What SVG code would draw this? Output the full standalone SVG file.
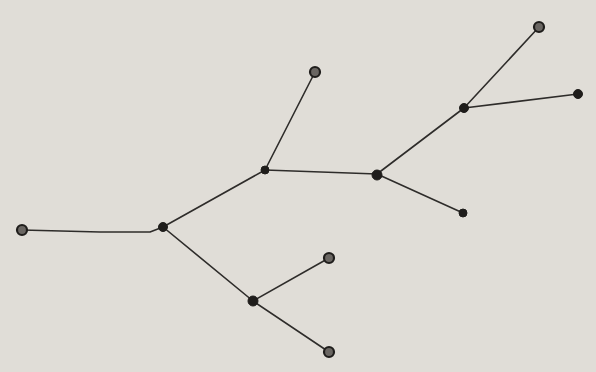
<svg xmlns="http://www.w3.org/2000/svg" width="596" height="372" viewBox="0 0 596 372">
<style>
.e{fill:none;stroke:#2e2c2a;stroke-width:1.6;stroke-linecap:round;stroke-linejoin:round}
.leaf{fill:#6a6662;stroke:#1f1d1b;stroke-width:2.2}
.inner{fill:#1f1d1b;stroke:#1f1d1b;stroke-width:1}
</style>
<rect width="596" height="372" fill="#e0ddd7"/>
<g id="connectors">
<path class="e" d="M22,230 L100,232 L150,232 L163,227"/>
<path class="e" d="M163,227 L265,170"/>
<path class="e" d="M265,170 L315,72"/>
<path class="e" d="M265,170 L377,174"/>
<path class="e" d="M377,174 L464,108"/>
<path class="e" d="M464,108 L539,27"/>
<path class="e" d="M464,108 L578,94"/>
<path class="e" d="M377,174 L463,213"/>
<path class="e" d="M163,227 L253,301"/>
<path class="e" d="M253,301 L329,258"/>
<path class="e" d="M253,301 L329,352"/>
</g>
<g id="n1"><circle class="leaf" cx="22" cy="230" r="5"/></g>
<g id="n2"><circle class="inner" cx="163" cy="227" r="4.5"/></g>
<g id="n3"><circle class="inner" cx="265" cy="170" r="4"/></g>
<g id="n4"><circle class="leaf" cx="315" cy="72" r="5"/></g>
<g id="n5"><circle class="inner" cx="377" cy="175" r="5"/></g>
<g id="n6"><circle class="inner" cx="464" cy="108" r="4.5"/></g>
<g id="n7"><circle class="leaf" cx="539" cy="27" r="5"/></g>
<g id="n8"><circle class="inner" cx="578" cy="94" r="4.5"/></g>
<g id="n9"><circle class="inner" cx="463" cy="213" r="4"/></g>
<g id="n10"><circle class="inner" cx="253" cy="301" r="5"/></g>
<g id="n11"><circle class="leaf" cx="329" cy="258" r="5"/></g>
<g id="n12"><circle class="leaf" cx="329" cy="352" r="5"/></g>
</svg>
